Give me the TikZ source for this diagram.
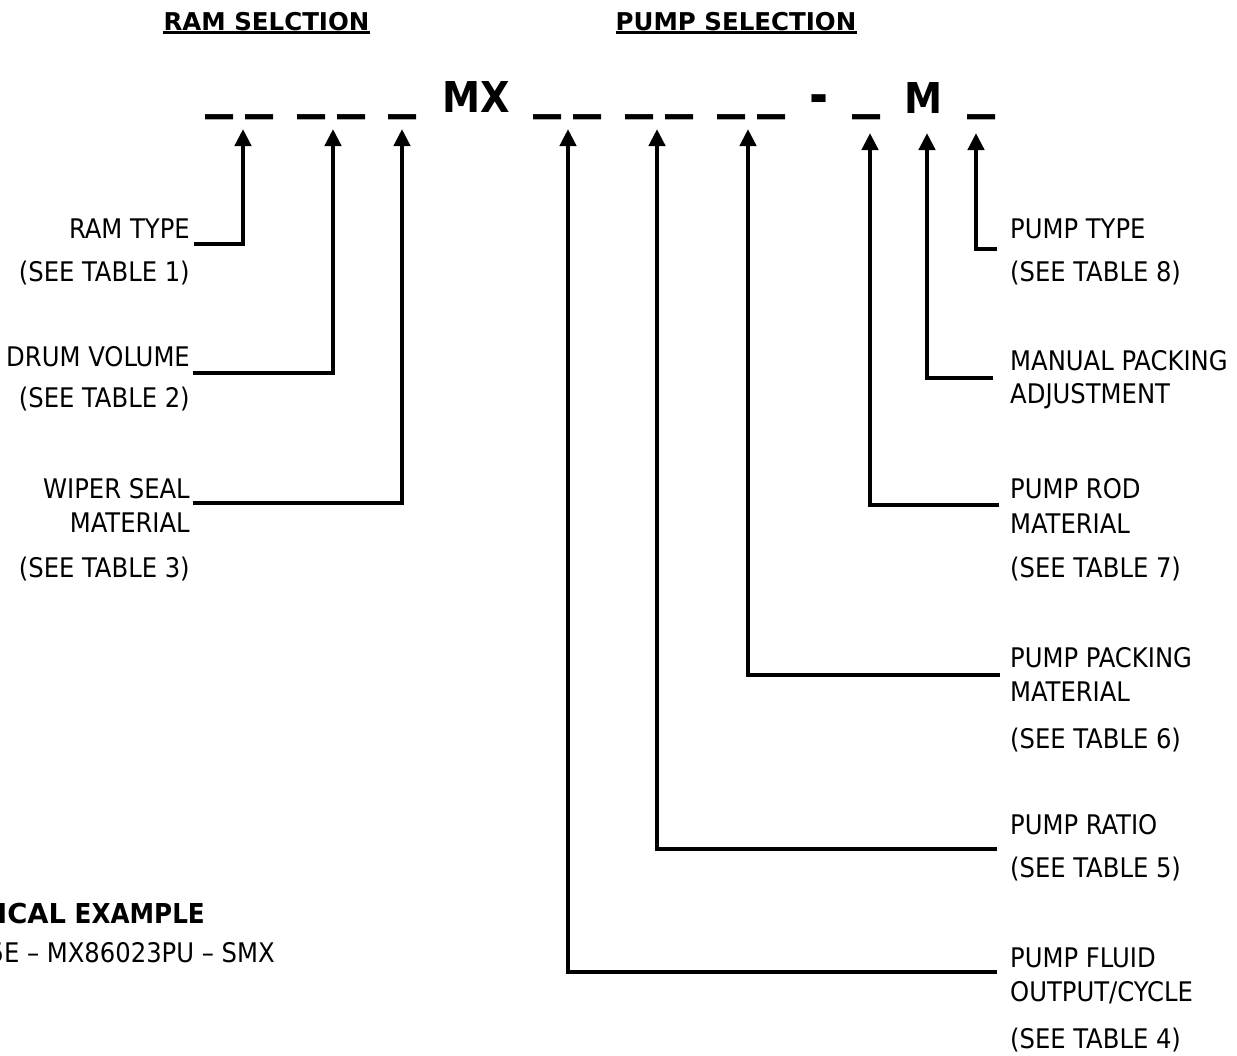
\documentclass[tikz,border=0pt]{standalone}
\usepackage{fontspec}
\usepackage{graphicx}
\setmainfont{DejaVu Sans Condensed}
\newfontfamily\widefont{DejaVu Sans}
\usetikzlibrary{arrows.meta}
\newcommand\blankmark{\scalebox{1.47}[1.33]{\_}}
\tikzset{
  lbl/.style={inner sep=0pt, font=\fontsize{27}{32}\selectfont},
  lblL/.style={lbl, anchor=base east},
  lblR/.style={lbl, anchor=base west},
  conn/.style={line width=4.5pt, -{Triangle[length=17pt,width=16pt]}},
  codetxt/.style={inner sep=0pt, anchor=base, font=\fontsize{42.5}{50}\selectfont\bfseries},
  hdr/.style={inner sep=0pt, anchor=base, font=\widefont\fontsize{24.5}{30}\selectfont\bfseries},
  uline/.style={line width=3pt},
  extxt/.style={inner sep=0pt, anchor=base east},
}
\begin{document}
\begin{tikzpicture}[x=1pt,y=-1pt]
\fill[white] (0,0) rectangle (1237,1055);
\useasboundingbox (0,0) rectangle (1237,1055);

% headers
\node[hdr] (h1) at (266.5,30) {RAM SELCTION};
\node[hdr] (h2) at (736,30) {PUMP SELECTION};
\draw[uline] ([yshift=-2.5pt]h1.base west) -- ([yshift=-2.5pt]h1.base east);
\draw[uline] ([yshift=-2.5pt]h2.base west) -- ([yshift=-2.5pt]h2.base east);

% code line
\foreach \i/\x in {1/219.5,2/259.5,3/312,4/351.5,5/403,6/548,7/587.5,8/640,9/680,10/732,11/772,12/867,13/982}
  \node[codetxt] (u\i) at (\x,106.5) {\blankmark};
\node[codetxt] (mx) at (476,112) {MX};
\node[codetxt] (dash) at (819.5,114) {\scalebox{1.2}[1.3]{-}};
\node[codetxt] (mm) at (924,113) {M};

% arrow tips
\coordinate (t1) at (243,129);
\coordinate (t2) at (333,129);
\coordinate (t3) at (402,129);
\coordinate (t4) at (568,129);
\coordinate (t5) at (657,129);
\coordinate (t6) at (748,129);
\coordinate (t7) at (870,133);
\coordinate (t8) at (927,133);
\coordinate (t9) at (976,133);

% left labels
\node[lblL] (ramtype) at (190,238) {RAM TYPE};
\node[lblL] (ramtab) at (190,281) {(SEE TABLE 1)};
\node[lblL] (drum) at (190,366) {DRUM VOLUME};
\node[lblL] (drumtab) at (190,407) {(SEE TABLE 2)};
\node[lblL] (wiper) at (190,498) {WIPER SEAL};
\node[lblL] (wipermat) at (190,532) {MATERIAL};
\node[lblL] (wipertab) at (190,577) {(SEE TABLE 3)};

% right labels
\node[lblR] (ptype) at (1010,238) {PUMP TYPE};
\node[lblR] (ptypetab) at (1010,281) {(SEE TABLE 8)};
\node[lblR] (manual) at (1010,370) {MANUAL PACKING};
\node[lblR] (manadj) at (1010,403) {ADJUSTMENT};
\node[lblR] (prod) at (1010,498) {PUMP ROD};
\node[lblR] (prodmat) at (1010,533) {MATERIAL};
\node[lblR] (prodtab) at (1010,577) {(SEE TABLE 7)};
\node[lblR] (ppack) at (1010,667) {PUMP PACKING};
\node[lblR] (ppackmat) at (1010,701) {MATERIAL};
\node[lblR] (ppacktab) at (1010,748) {(SEE TABLE 6)};
\node[lblR] (pratio) at (1010,834) {PUMP RATIO};
\node[lblR] (pratiotab) at (1010,877) {(SEE TABLE 5)};
\node[lblR] (pfluid) at (1010,967) {PUMP FLUID};
\node[lblR] (pfluidout) at (1010,1001) {OUTPUT/CYCLE};
\node[lblR] (pfluidtab) at (1010,1048) {(SEE TABLE 4)};

% connectors
\draw[conn] ([xshift=4pt,yshift=-6pt]ramtype.base east) -| (t1);
\draw[conn] ([xshift=3pt,yshift=-7pt]drum.base east) -| (t2);
\draw[conn] ([xshift=3pt,yshift=-5pt]wiper.base east) -| (t3);
\draw[conn] ([xshift=-13pt,yshift=-5pt]pfluid.base west) -| (t4);
\draw[conn] ([xshift=-13pt,yshift=-15pt]pratio.base west) -| (t5);
\draw[conn] ([xshift=-10pt,yshift=-8pt]ppack.base west) -| (t6);
\draw[conn] ([xshift=-11pt,yshift=-7pt]prod.base west) -| (t7);
\draw[conn] ([xshift=-17pt,yshift=-8pt]manual.base west) -| (t8);
\draw[conn] ([xshift=-13pt,yshift=-11pt]ptype.base west) -| (t9);

% typical example
\node[extxt, font=\fontsize{27.4}{32}\selectfont\bfseries] (ex1) at (205,923) {{\widefont TYPICAL} EXAMPLE};
\node[extxt, font=\fontsize{27}{32}\selectfont] (ex2) at (275,962) {5E – MX86023PU – SMX};
\end{tikzpicture}
\end{document}
